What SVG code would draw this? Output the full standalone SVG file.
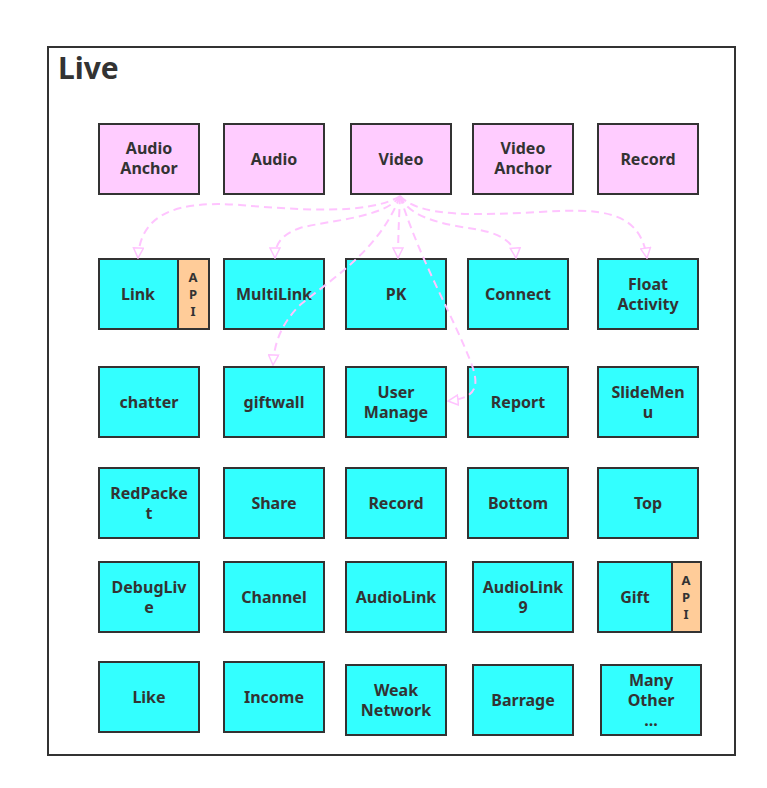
<svg xmlns="http://www.w3.org/2000/svg" width="767" height="788" viewBox="0 0 767 788">
<style>
.frame{fill:#fff;stroke:#333;stroke-width:2}
.p{fill:#FFCCFF;stroke:#333;stroke-width:2}
.c{fill:#33FFFF;stroke:#333;stroke-width:2}
.a{fill:#FFCC99;stroke:#333;stroke-width:2}
text{font-family:"Noto Sans","Open Sans","DejaVu Sans",sans-serif;font-weight:bold;fill:#333;text-anchor:middle;font-size:16px}
.t{font-size:30px;text-anchor:start}
.s{font-size:13px}
.e{fill:none;stroke:#FFC4FF;stroke-width:2;stroke-dasharray:8 5;marker-end:url(#ah)}
</style>
<defs>
<marker id="ah" viewBox="0 0 12 12" refX="11" refY="6" markerWidth="12" markerHeight="12" markerUnits="userSpaceOnUse" orient="auto">
<path d="M1,1 L11,6 L1,11 Z" fill="#fff" stroke="#FFC4FF" stroke-width="1.5"/>
</marker>
</defs>
<rect width="767" height="788" fill="#fff"/>
<g id="live">
<rect class="frame" x="48" y="47" width="687" height="708"/>
<text class="t" x="58" y="79">Live</text>
</g>
<g id="audio-anchor"><rect class="p" x="99" y="124" width="100" height="70"/><text x="149" y="154">Audio</text><text x="149" y="174">Anchor</text></g>
<g id="audio"><rect class="p" x="224" y="124" width="100" height="70"/><text x="274" y="165">Audio</text></g>
<g id="video"><rect class="p" x="351" y="124" width="100" height="70"/><text x="401" y="165">Video</text></g>
<g id="video-anchor"><rect class="p" x="473" y="124" width="100" height="70"/><text x="523" y="154">Video</text><text x="523" y="174">Anchor</text></g>
<g id="record-top"><rect class="p" x="598" y="124" width="100" height="70"/><text x="648" y="165">Record</text></g>

<g id="link"><rect class="c" x="99" y="259" width="79" height="70"/><text x="138" y="300">Link</text><rect class="a" x="178" y="259" width="31" height="70"/><text class="s" x="193" y="282">A</text><text class="s" x="193" y="299">P</text><text class="s" x="193" y="316">I</text></g>
<g id="multilink"><rect class="c" x="224" y="259" width="100" height="70"/><text x="274" y="300">MultiLink</text></g>
<g id="pk"><rect class="c" x="346" y="259" width="100" height="70"/><text x="396" y="300">PK</text></g>
<g id="connect"><rect class="c" x="468" y="259" width="100" height="70"/><text x="518" y="300">Connect</text></g>
<g id="float-activity"><rect class="c" x="598" y="259" width="100" height="70"/><text x="648" y="290">Float</text><text x="648" y="310">Activity</text></g>

<g id="chatter"><rect class="c" x="99" y="367" width="100" height="70"/><text x="149" y="408">chatter</text></g>
<g id="giftwall"><rect class="c" x="224" y="367" width="100" height="70"/><text x="274" y="408">giftwall</text></g>
<g id="user-manage"><rect class="c" x="346" y="367" width="100" height="70"/><text x="396" y="398">User</text><text x="396" y="418">Manage</text></g>
<g id="report"><rect class="c" x="468" y="367" width="100" height="70"/><text x="518" y="408">Report</text></g>
<g id="slidemenu"><rect class="c" x="598" y="367" width="100" height="70"/><text x="648" y="398">SlideMen</text><text x="648" y="418">u</text></g>

<g id="redpacket"><rect class="c" x="99" y="468" width="100" height="70"/><text x="149" y="499">RedPacke</text><text x="149" y="519">t</text></g>
<g id="share"><rect class="c" x="224" y="468" width="100" height="70"/><text x="274" y="509">Share</text></g>
<g id="record"><rect class="c" x="346" y="468" width="100" height="70"/><text x="396" y="509">Record</text></g>
<g id="bottom"><rect class="c" x="468" y="468" width="100" height="70"/><text x="518" y="509">Bottom</text></g>
<g id="top"><rect class="c" x="598" y="468" width="100" height="70"/><text x="648" y="509">Top</text></g>

<g id="debuglive"><rect class="c" x="99" y="562" width="100" height="70"/><text x="149" y="593">DebugLiv</text><text x="149" y="613">e</text></g>
<g id="channel"><rect class="c" x="224" y="562" width="100" height="70"/><text x="274" y="603">Channel</text></g>
<g id="audiolink"><rect class="c" x="346" y="562" width="100" height="70"/><text x="396" y="603">AudioLink</text></g>
<g id="audiolink9"><rect class="c" x="473" y="562" width="100" height="70"/><text x="523" y="593">AudioLink</text><text x="523" y="613">9</text></g>
<g id="gift"><rect class="c" x="598" y="562" width="74" height="70"/><text x="635" y="603">Gift</text><rect class="a" x="672" y="562" width="29" height="70"/><text class="s" x="686" y="585">A</text><text class="s" x="686" y="602">P</text><text class="s" x="686" y="619">I</text></g>

<g id="like"><rect class="c" x="99" y="662" width="100" height="70"/><text x="149" y="703">Like</text></g>
<g id="income"><rect class="c" x="224" y="662" width="100" height="70"/><text x="274" y="703">Income</text></g>
<g id="weak-network"><rect class="c" x="346" y="665" width="100" height="70"/><text x="396" y="696">Weak</text><text x="396" y="716">Network</text></g>
<g id="barrage"><rect class="c" x="473" y="665" width="100" height="70"/><text x="523" y="706">Barrage</text></g>
<g id="many-other"><rect class="c" x="601" y="665" width="100" height="70"/><text x="651" y="686">Many</text><text x="651" y="706">Other</text><text x="651" y="726">...</text></g>

<g id="connectors">
<path class="e" d="M400,196 C370,215 300,210 240,205 C175,200 140,215 138,258"/>
<path class="e" d="M400,196 C385,218 330,220 300,228 C280,235 275,245 275,258"/>
<path class="e" d="M400,196 C399,220 398,240 398,258"/>
<path class="e" d="M400,196 C380,250 330,280 300,305 C280,325 274,345 273,365"/>
<path class="e" d="M400,196 C420,260 450,310 470,360 C480,385 478,398 448,401"/>
<path class="e" d="M400,196 C410,220 450,225 480,230 C505,235 515,245 516,258"/>
<path class="e" d="M400,196 C420,218 480,215 540,212 C600,208 640,210 647,258"/>
</g>
</svg>
